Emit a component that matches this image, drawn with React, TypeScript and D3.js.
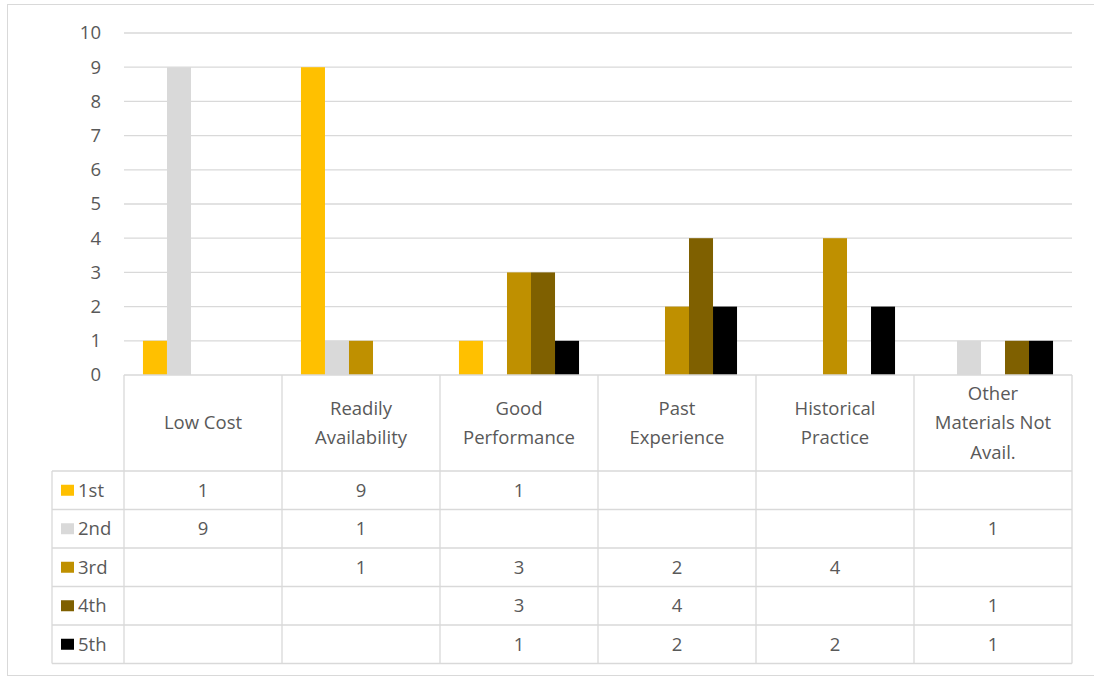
import * as d3 from "d3";

const categories = [
  ["Low Cost"],
  ["Readily", "Availability"],
  ["Good", "Performance"],
  ["Past", "Experience"],
  ["Historical", "Practice"],
  ["Other", "Materials Not", "Avail."],
];
const seriesNames = ["1st", "2nd", "3rd", "4th", "5th"];
const seriesColors = ["#FFC000", "#D9D9D9", "#BF9000", "#7F6000", "#000000"];
// null = empty cell in the data table
const first = [1, 9, 1, null, null, null];
const second = [9, 1, null, null, null, 1];
const third = [null, 1, 3, 2, 4, null];
const fourth = [null, null, 3, 4, null, 1];
const fifth = [null, null, 1, 2, 2, 1];
const series = [first, second, third, fourth, fifth];
const yTicks = [0, 1, 2, 3, 4, 5, 6, 7, 8, 9, 10];

const W = 1094;
const H = 677;
const left = 124;
const right = 1072;
const top = 33;
const zeroY = 375;
const headerBottom = 471;
const rowH = 38.5;
const legendLeft = 52;
const grid = "#D9D9D9";
const text = "#595959";
const font = "'Open Sans', 'Noto Sans', sans-serif";
const fs = 18.5;

export default function App() {
  const x = d3.scaleBand<number>().domain(d3.range(categories.length)).range([left, right]);
  const inner = d3
    .scaleBand<number>()
    .domain(d3.range(seriesNames.length))
    .range([0, x.bandwidth()])
    .paddingOuter(0.79)
    .paddingInner(0);
  const y = d3.scaleLinear().domain([0, 10]).range([zeroY, top]);
  const rowY = (i: number) => headerBottom + i * rowH;

  return (
    <svg width={W} height={H} style={{ position: "absolute", left: 0, top: 0, background: "#fff" }} fontFamily={font}>
      <rect x={7.5} y={4.5} width={W} height={671} fill="none" stroke={grid} />
      {yTicks.map((t) => (
        <g key={t}>
          {t > 0 && <line x1={left} x2={right} y1={y(t)} y2={y(t)} stroke={grid} strokeWidth={1.3} />}
          <text x={101} y={y(t)} dy="0.35em" textAnchor="end" fontSize={fs} fill={text}>
            {t}
          </text>
        </g>
      ))}
      {series.map((vals, s) =>
        vals.map((v, c) =>
          v ? (
            <rect
              key={`${s}-${c}`}
              x={x(c)! + inner(s)!}
              width={inner.bandwidth()}
              y={y(v)}
              height={zeroY - y(v)}
              fill={seriesColors[s]}
            />
          ) : null
        )
      )}
      {/* data table */}
      <g stroke={grid} strokeWidth={1.3} fill="none">
        <line x1={left} x2={right} y1={zeroY} y2={zeroY} />
        {d3.range(categories.length + 1).map((i) => {
          const xx = i === categories.length ? right : x(i)!;
          return <line key={i} x1={xx} x2={xx} y1={zeroY} y2={rowY(seriesNames.length)} />;
        })}
        <line x1={legendLeft} x2={legendLeft} y1={headerBottom} y2={rowY(seriesNames.length)} />
        {d3.range(seriesNames.length + 1).map((i) => (
          <line key={i} x1={legendLeft} x2={right} y1={rowY(i)} y2={rowY(i)} />
        ))}
      </g>
      {categories.map((lines, c) => {
        const cx = x(c)! + x.bandwidth() / 2;
        const mid = (zeroY + headerBottom) / 2;
        const lh = 29.5;
        return (
          <text key={c} textAnchor="middle" fontSize={fs} fill={text}>
            {lines.map((l, i) => (
              <tspan key={i} x={cx} y={mid + (i - (lines.length - 1) / 2) * lh} dy="0.35em">
                {l}
              </tspan>
            ))}
          </text>
        );
      })}
      {seriesNames.map((name, s) => {
        const cy = rowY(s) + rowH / 2;
        return (
          <g key={name}>
            <rect x={61} y={cy - 5.5} width={13} height={11} fill={seriesColors[s]} />
            <text x={78} y={cy} dy="0.35em" fontSize={fs} fill={text}>
              {name}
            </text>
            {series[s].map((v, c) =>
              v != null ? (
                <text key={c} x={x(c)! + x.bandwidth() / 2} y={cy} dy="0.35em" textAnchor="middle" fontSize={fs} fill={text}>
                  {v}
                </text>
              ) : null
            )}
          </g>
        );
      })}
    </svg>
  );
}
